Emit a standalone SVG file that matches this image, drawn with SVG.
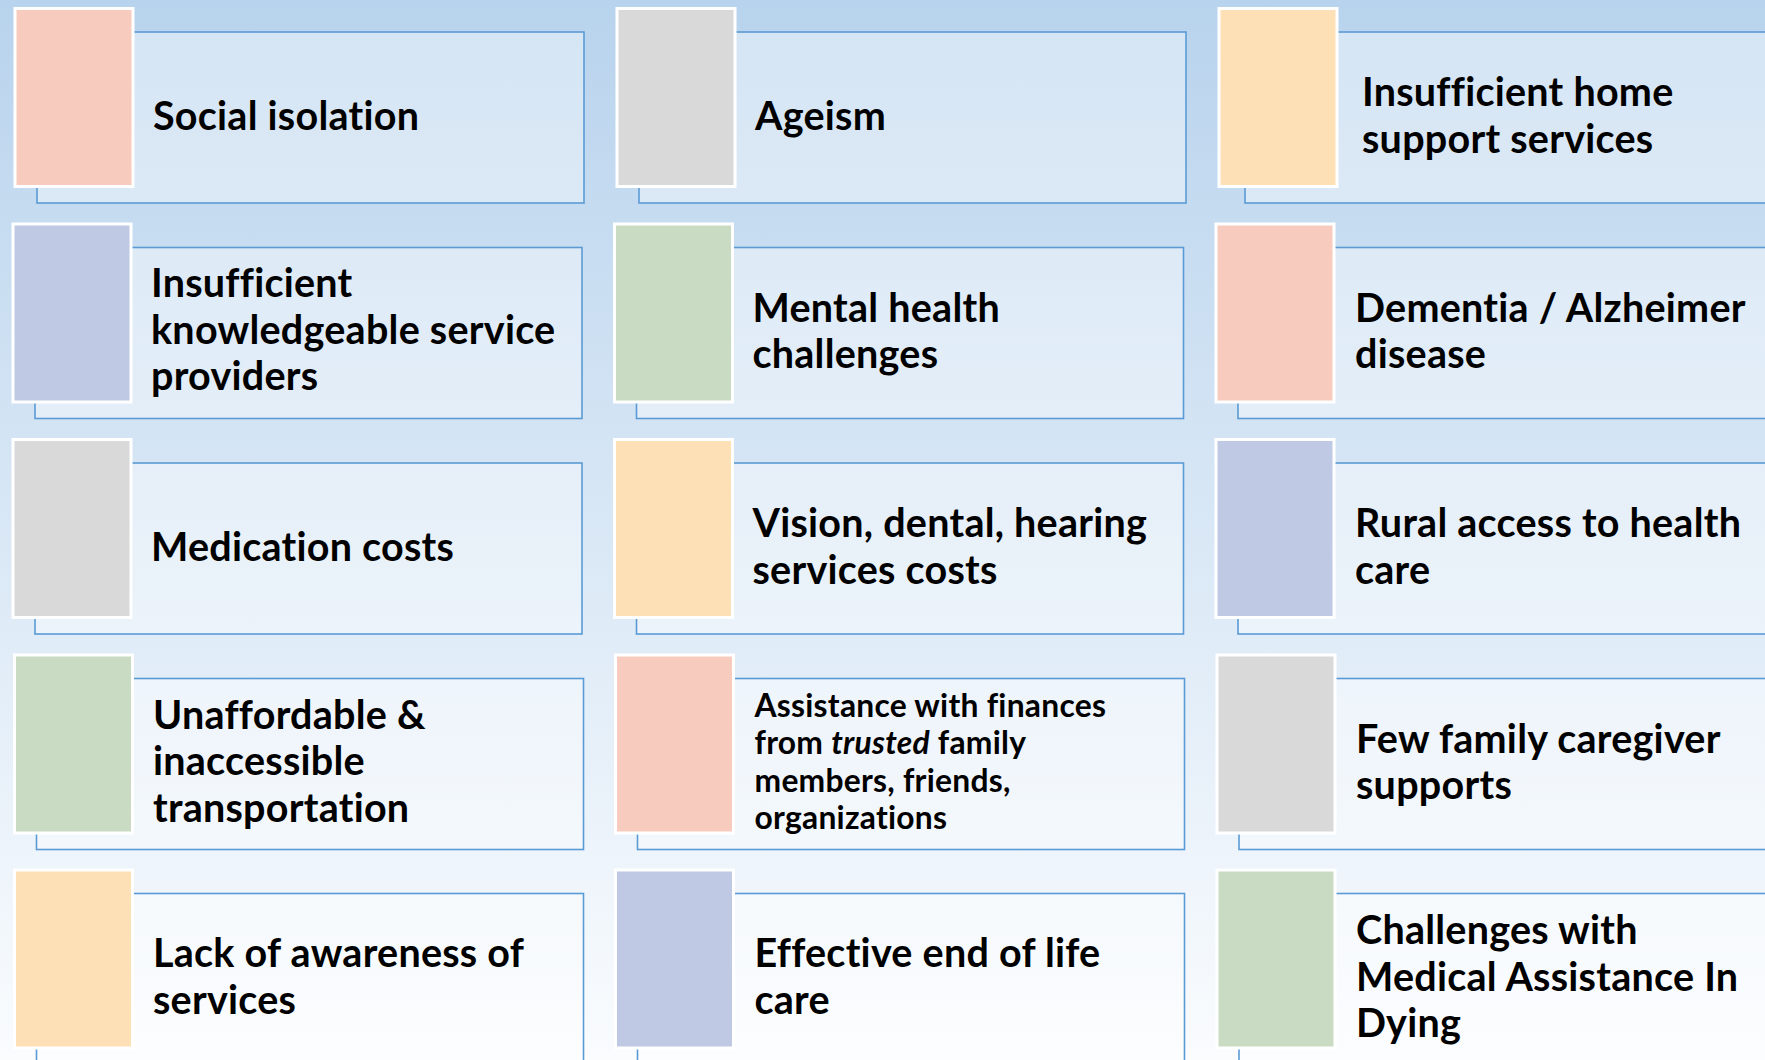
<svg xmlns="http://www.w3.org/2000/svg" width="1765" height="1060" viewBox="0 0 1765 1060">
<defs>
<linearGradient id="bg" x1="0" y1="0" x2="0" y2="1">
<stop offset="0" stop-color="#b8d3ed"/>
<stop offset="1" stop-color="#fafcfe"/>
</linearGradient>
</defs>
<style>
.box{fill:#ffffff;fill-opacity:0.4;stroke:#5b9bd5;stroke-width:1.6}
.sq{stroke:#ffffff;stroke-width:3}
.salmon{fill:#f7cbbe}
.gray{fill:#d9d9d9}
.peach{fill:#fee0b7}
.lav{fill:#bfc9e3}
.green{fill:#c9dbc2}
.t{font-family:Lato,"Open Sans","Liberation Sans",sans-serif;font-weight:700;font-size:39.5px;letter-spacing:0.25px;fill:#000000}
.s{font-size:31.8px}
.i{font-style:italic}
</style>
<rect x="0" y="0" width="1765" height="1060" fill="url(#bg)"/>
<g id="connectors"></g>

<g id="n1">
<rect class="box" x="37" y="32" width="547" height="171"/>
<rect class="sq salmon" x="15" y="8.5" width="118" height="178"/>
<text class="t" x="153" y="129.5">Social isolation</text>
</g>
<g id="n2">
<rect class="box" x="639" y="32" width="547" height="171"/>
<rect class="sq gray" x="617" y="8.5" width="118" height="178"/>
<text class="t" x="755" y="129.5">Ageism</text>
</g>
<g id="n3">
<rect class="box" x="1245" y="32" width="547" height="171"/>
<rect class="sq peach" x="1219" y="8.5" width="118" height="178"/>
<text class="t" x="1362" y="106">Insufficient home<tspan x="1362" y="152.7">support services</tspan></text>
</g>

<g id="n4">
<rect class="box" x="35" y="247.5" width="547" height="171"/>
<rect class="sq lav" x="13" y="224" width="118" height="178"/>
<text class="t" x="151" y="297">Insufficient<tspan x="151" y="343.7">knowledgeable service</tspan><tspan x="151" y="390.4">providers</tspan></text>
</g>
<g id="n5">
<rect class="box" x="636.5" y="247.5" width="547" height="171"/>
<rect class="sq green" x="614.5" y="224" width="118" height="178"/>
<text class="t" x="752.5" y="321.7">Mental health<tspan x="752.5" y="368.4">challenges</tspan></text>
</g>
<g id="n6">
<rect class="box" x="1238" y="247.5" width="547" height="171"/>
<rect class="sq salmon" x="1216" y="224" width="118" height="178"/>
<text class="t" x="1355" y="321.7">Dementia / Alzheimer<tspan x="1355" y="368.4">disease</tspan></text>
</g>

<g id="n7">
<rect class="box" x="35" y="463" width="547" height="171"/>
<rect class="sq gray" x="13" y="439.5" width="118" height="178"/>
<text class="t" x="151" y="560.5">Medication costs</text>
</g>
<g id="n8">
<rect class="box" x="636.5" y="463" width="547" height="171"/>
<rect class="sq peach" x="614.5" y="439.5" width="118" height="178"/>
<text class="t" x="752.5" y="537">Vision, dental, hearing<tspan x="752.5" y="583.7">services costs</tspan></text>
</g>
<g id="n9">
<rect class="box" x="1238" y="463" width="547" height="171"/>
<rect class="sq lav" x="1216" y="439.5" width="118" height="178"/>
<text class="t" x="1355" y="537">Rural access to health<tspan x="1355" y="583.7">care</tspan></text>
</g>

<g id="n10">
<rect class="box" x="36.5" y="678.5" width="547" height="171"/>
<rect class="sq green" x="14.5" y="655" width="118" height="178"/>
<text class="t" x="153" y="728.5">Unaffordable &amp;<tspan x="153" y="775.2">inaccessible</tspan><tspan x="153" y="821.9">transportation</tspan></text>
</g>
<g id="n11">
<rect class="box" x="637.5" y="678.5" width="547" height="171"/>
<rect class="sq salmon" x="615.5" y="655" width="118" height="178"/>
<text class="t s" x="754.5" y="716.7">Assistance with finances<tspan x="754.5" y="754.2">from <tspan class="i">trusted</tspan> family</tspan><tspan x="754.5" y="791.7">members, friends,</tspan><tspan x="754.5" y="829.2">organizations</tspan></text>
</g>
<g id="n12">
<rect class="box" x="1239" y="678.5" width="547" height="171"/>
<rect class="sq gray" x="1217" y="655" width="118" height="178"/>
<text class="t" x="1356" y="752.7">Few family caregiver<tspan x="1356" y="799.4">supports</tspan></text>
</g>

<g id="n13">
<rect class="box" x="36.5" y="893.5" width="547" height="171"/>
<rect class="sq peach" x="14.5" y="870" width="118" height="178"/>
<text class="t" x="153" y="967.3">Lack of awareness of<tspan x="153" y="1014">services</tspan></text>
</g>
<g id="n14">
<rect class="box" x="637.5" y="893.5" width="547" height="171"/>
<rect class="sq lav" x="615.5" y="870" width="118" height="178"/>
<text class="t" x="754.5" y="967">Effective end of life<tspan x="754.5" y="1013.7">care</tspan></text>
</g>
<g id="n15">
<rect class="box" x="1239" y="893.5" width="547" height="171"/>
<rect class="sq green" x="1217" y="870" width="118" height="178"/>
<text class="t" x="1356" y="944">Challenges with<tspan x="1356" y="990.7">Medical Assistance In</tspan><tspan x="1356" y="1037.4">Dying</tspan></text>
</g>
</svg>
